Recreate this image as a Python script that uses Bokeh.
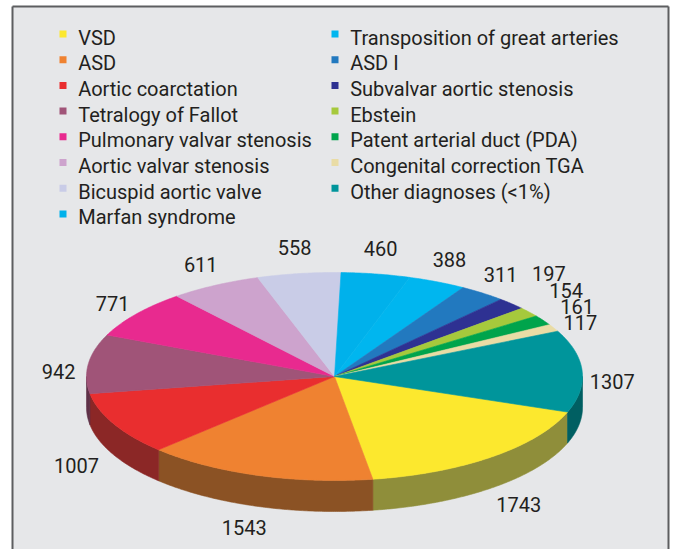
import numpy as np
from bokeh.plotting import figure
from bokeh.models import Range1d, ColumnDataSource
from bokeh.core.properties import value
from bokeh.embed import file_html
from bokeh.resources import INLINE

# ---------------- data ----------------
categories = [
    "VSD", "ASD", "Aortic coarctation", "Tetralogy of Fallot",
    "Pulmonary valvar stenosis", "Aortic valvar stenosis", "Bicuspid aortic valve",
    "Marfan syndrome", "Transposition of great arteries", "ASD I",
    "Subvalvar aortic stenosis", "Ebstein", "Patent arterial duct (PDA)",
    "Congenital correction TGA", "Other diagnoses (<1%)",
]
counts = [1743, 1543, 1007, 942, 771, 611, 558, 460, 388, 311, 197, 154, 161, 117, 1307]
colors = [
    "#fce82e", "#ef8231", "#e92e2f", "#a05478", "#e82a8f", "#cda3cd", "#c9cce7",
    "#00b1eb", "#00b6ef", "#2279bf", "#2e3192", "#a6c93c", "#00a44c", "#e9dca5", "#00959b",
]
side_colors = [
    "#8f8e3a", "#8b5224", "#8b2726", "#5e3047", "#8a1a55", "#7a607a", "#777988",
    "#006a8c", "#006c8e", "#144872", "#1b1d57", "#637824", "#00622d", "#8b8362", "#005f62",
]
legend_col1 = 8  # items in the first legend column

# ---------------- layout ----------------
W, H = 673, 549
cx, cy = 334.0, 376.0          # pie centre (screen px, y down)
rx, ry, depth = 248.0, 104.0, 31.0
start_deg = 20.0               # clockwise from 3 o'clock

p = figure(width=W, height=H, output_backend="svg", toolbar_location=None,
           x_range=Range1d(0, W), y_range=Range1d(H, 0), min_border=0,
           background_fill_color="white", border_fill_color="white")
p.axis.visible = False
p.grid.visible = False
p.outline_line_color = None

# panel background
p.quad(left=[12], right=[668], top=[6], bottom=[H], fill_color="#e6e7e9", line_color=None)

vals = np.array(counts, dtype=float)
spans = vals / vals.sum() * 360.0
a0s = start_deg + np.concatenate([[0], np.cumsum(spans)[:-1]])
a1s = a0s + spans

def arc(a, b, dy=0.0):
    n = max(2, int(abs(b - a) * 2) + 2)
    t = np.radians(np.linspace(a, b, n))
    return list(cx + rx * np.cos(t)), list(cy + dy + ry * np.sin(t))

# sides (front half only)
sx, sy, sc = [], [], []
for a0, a1, c in zip(a0s, a1s, side_colors):
    for off in (0.0, 360.0, -360.0):
        b0, b1 = max(a0 + off, 0.0), min(a1 + off, 180.0)
        if b1 > b0:
            tx, ty = arc(b0, b1)
            bx, by = arc(b1, b0, depth)
            sx.append(tx + bx)
            sy.append(ty + by)
            sc.append(c)
p.patches(xs=sx, ys=sy, fill_color=sc, line_color=sc, line_width=0.6)

# top faces
wx, wy = [], []
for a0, a1 in zip(a0s, a1s):
    ax, ay = arc(a0, a1)
    wx.append([cx] + ax)
    wy.append([cy] + ay)
p.patches(xs=wx, ys=wy, fill_color=colors, line_color=colors, line_width=0.6)

# value labels: outside end, pushed outward until they do not overlap
labels = [str(v) for v in counts]
mid = np.radians((a0s + a1s) / 2.0)

def label_pos(m, g):
    c, s = np.cos(m), np.sin(m)
    if s > 0:
        return cx + (rx + 42 + g) * c, cy + (ry + 22 + g) * s + depth
    return cx + (rx + 30 + g) * c, cy + (ry + 26 + g) * s + 0.4 * depth * (1 + s)

placed = []
pos = [None] * len(labels)
for i in reversed(range(len(labels))):
    bw, bh = 11.6 * len(labels[i]), 16.0
    g = 0.0
    while True:
        x, y = label_pos(mid[i], g)
        if all(abs(x - px) >= (bw + pw) / 2 or abs(y - py) >= (bh + ph) / 2
               for px, py, pw, ph in placed):
            break
        g += 0.5
    placed.append((x, y, bw, bh))
    pos[i] = (x, y)
lx = [q[0] for q in pos]
ly = [q[1] for q in pos]
p.text(x=lx, y=ly, text=labels, text_font=value("Roboto"),
       text_font_size="20px", text_color="#231f20", text_align="center",
       text_baseline="middle")

# legend
n = len(categories)
idx = np.arange(n)
col = (idx >= legend_col1).astype(int)
row = np.where(col == 0, idx, idx - legend_col1)
mx = np.where(col == 0, 62.5, 334.5)
my = 33.5 + 25.7 * row
src = ColumnDataSource(dict(mx=mx, my=my, tx=mx + 15.2, ty=my + 3.5,
                            label=categories, color=colors))
p.scatter(x="mx", y="my", marker="square", size=7, fill_color="color",
          line_color=None, source=src)
p.text(x="tx", y="ty", text="label", text_font=value("Roboto"), text_font_size="20px",
       text_color="#231f20", text_align="left", text_baseline="middle", source=src)

# panel border (left, top, right)
p.multi_line(xs=[[12, 12], [12, 668], [668, 668]], ys=[[H, 6], [6, 6], [6, H]],
             line_color="#5d5e60", line_width=2)

open("out.html", "w").write(file_html(p, INLINE))
